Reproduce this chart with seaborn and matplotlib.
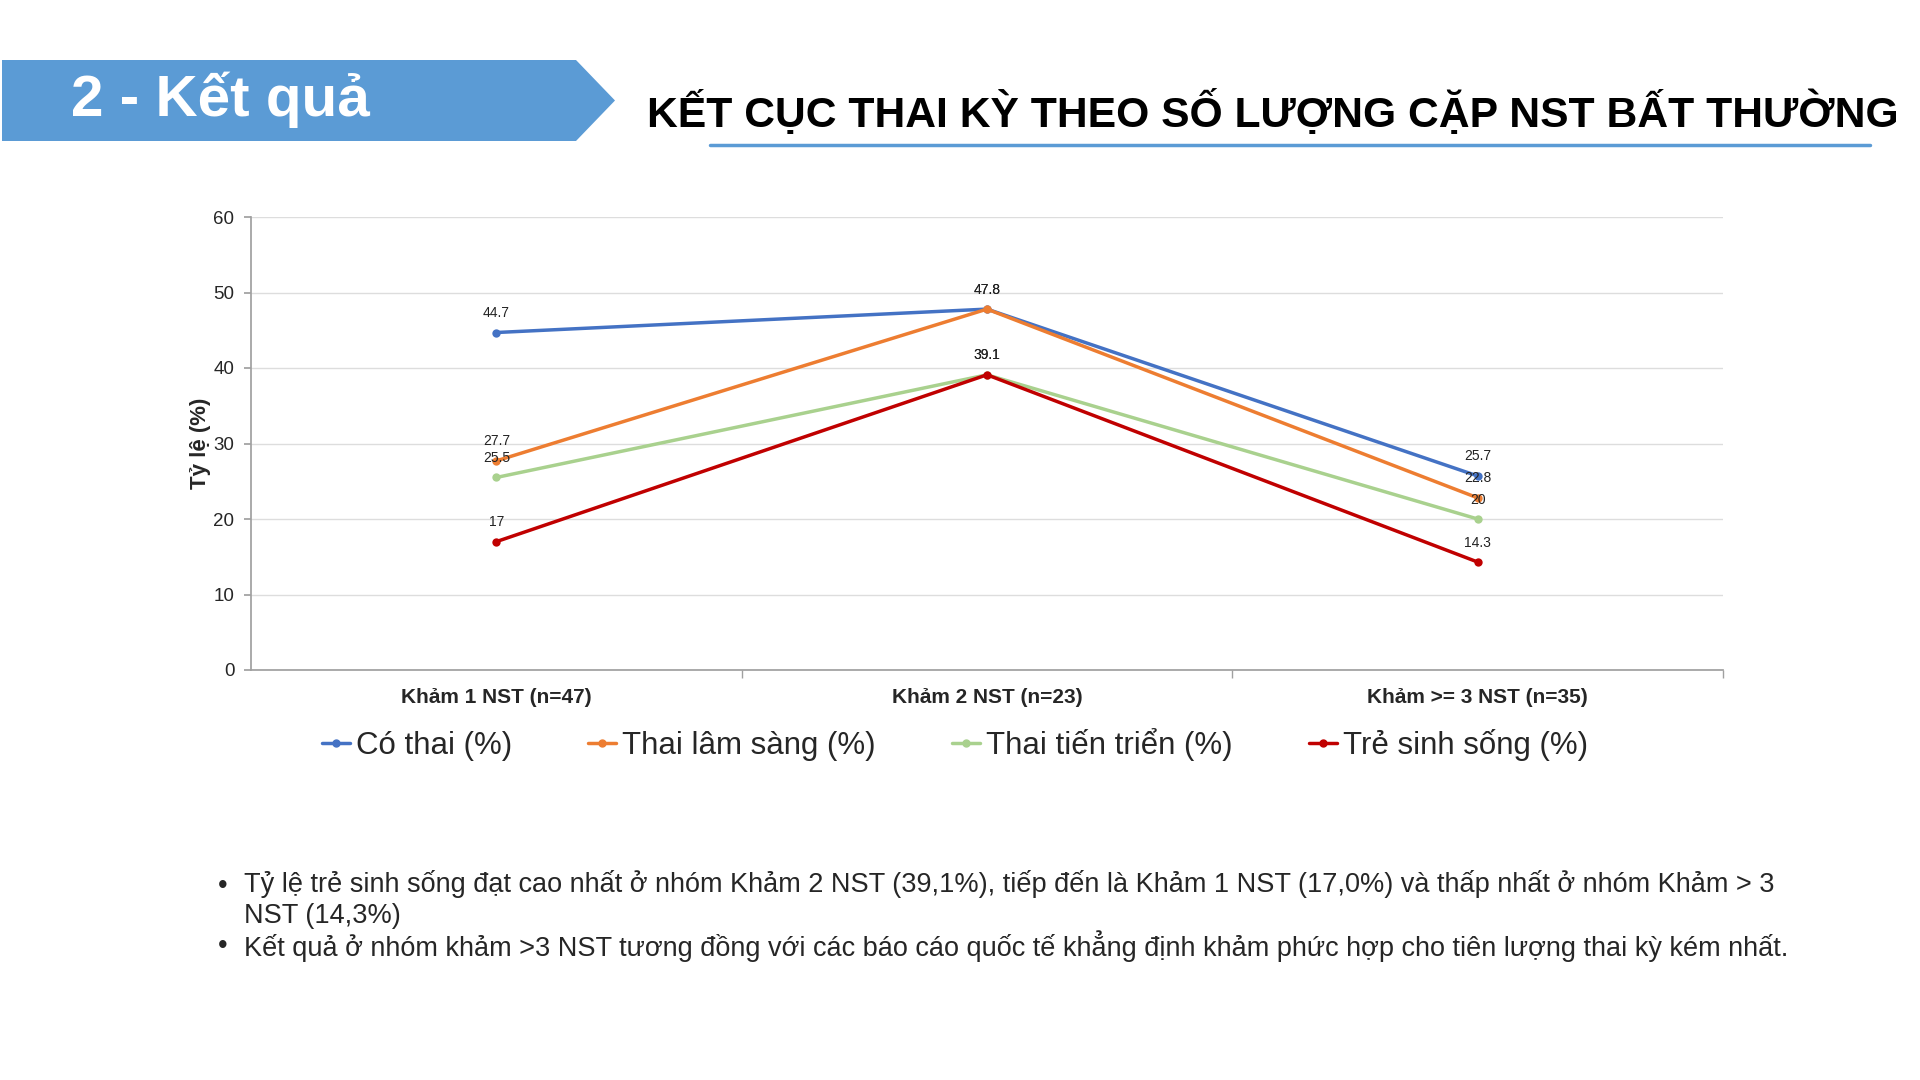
import numpy as np
import pandas as pd
import seaborn as sns
import matplotlib.pyplot as plt
from matplotlib.patches import Polygon
from matplotlib.lines import Line2D

categories = ['Khảm 1 NST (n=47)', 'Khảm 2 NST (n=23)', 'Khảm >= 3 NST (n=35)']
series_names = ['Có thai (%)', 'Thai lâm sàng (%)', 'Thai tiến triển (%)', 'Trẻ sinh sống (%)']
co_thai = [44.7, 47.8, 25.7]
thai_lam_sang = [27.7, 47.8, 22.8]
thai_tien_trien = [25.5, 39.1, 20]
tre_sinh_song = [17, 39.1, 14.3]
colors = ['#4472C4', '#ED7D31', '#A9D18E', '#C00000']

bullets = [
    'Tỷ lệ trẻ sinh sống đạt cao nhất ở nhóm Khảm 2 NST (39,1%), tiếp đến là Khảm 1 NST (17,0%) và thấp nhất ở nhóm Khảm > 3\nNST (14,3%)',
    'Kết quả ở nhóm khảm >3 NST tương đồng với các báo cáo quốc tế khẳng định khảm phức hợp cho tiên lượng thai kỳ kém nhất.',
]

sns.set_theme(style='white')
plt.rcParams['font.family'] = ['Liberation Sans', 'DejaVu Sans']

rows = []
for name, vals in zip(series_names, [co_thai, thai_lam_sang, thai_tien_trien, tre_sinh_song]):
    for i, v in enumerate(vals):
        rows.append({'pos': i, 'cat': categories[i], 'series': name, 'value': v})
df = pd.DataFrame(rows)

W, H = 1920, 1080
fig = plt.figure(figsize=(19.2, 10.8), dpi=100)
fig.patch.set_facecolor('white')

# header banner
banner = Polygon([[2/W, 1-60/H], [576/W, 1-60/H], [615/W, 1-100.5/H],
                  [576/W, 1-141/H], [2/W, 1-141/H]],
                 closed=True, transform=fig.transFigure, facecolor='#5B9BD5', edgecolor='none')
fig.patches.append(banner)
fig.text(71/W, 1-100/H, '2 - Kết quả', color='white', fontsize=42, fontweight='bold',
         va='center', ha='left')
fig.text(647/W, 1-113/H, 'KẾT CỤC THAI KỲ THEO SỐ LƯỢNG CẶP NST BẤT THƯỜNG', color='black',
         fontsize=30.7, fontweight='bold', va='center', ha='left')
fig.add_artist(Line2D([710/W, 1870/W], [1-144.5/H, 1-144.5/H], transform=fig.transFigure,
                      color='#5B9BD5', lw=2.5))

ax = fig.add_axes([251/W, 1-670/H, (1723-251)/W, (670-217)/H])
sns.lineplot(data=df, x='pos', y='value', hue='series', palette=colors, marker='o',
             markersize=6, markeredgewidth=0, linewidth=2.5, sort=False, ax=ax, legend=False)

for name, vals in zip(series_names, [co_thai, thai_lam_sang, thai_tien_trien, tre_sinh_song]):
    for i, v in enumerate(vals):
        ax.annotate(f'{v:g}', (i, v), xytext=(0, 9), textcoords='offset points',
                    ha='center', va='bottom', fontsize=10, color='#222222')

ax.set_xlim(-0.5, 2.5)
ax.set_ylim(0, 60)
ax.set_yticks(range(0, 61, 10))
ax.set_xticks(range(3))
ax.set_xticklabels(categories, fontweight='bold', fontsize=15)
ax.set_xticks([0.5, 1.5, 2.5], minor=True)
ax.tick_params(axis='x', which='major', length=0, pad=13)
ax.tick_params(axis='x', which='minor', length=6, color='#A0A0A0', direction='out', bottom=True)
ax.tick_params(axis='y', length=5, color='#A0A0A0', labelsize=13.5, left=True, direction='out', pad=7)
ax.grid(axis='y', color='#DDDDDD', lw=1)
ax.set_axisbelow(True)
for s in ['top', 'right']:
    ax.spines[s].set_visible(False)
for s in ['left', 'bottom']:
    ax.spines[s].set_color('#A0A0A0')
ax.set_xlabel('')
ax.set_ylabel('Tỷ lệ (%)', fontsize=16, fontweight='bold', labelpad=2)

handles = [Line2D([], [], color=c, lw=2.5, marker='o', markersize=5) for c in colors]
fig.legend(handles, series_names, loc='center', bbox_to_anchor=(955/W, 1-744.5/H), ncol=4,
           frameon=False, fontsize=22.5, handlelength=0.9, handletextpad=0.2, columnspacing=2.43)

ys = [870, 930]
for y, txt in zip(ys, bullets):
    fig.text(218/W, 1-(y + 3)/H, '•', fontsize=19.5, va='top', ha='left')
    fig.text(244/W, 1-y/H, txt, fontsize=19.5, va='top', ha='left', linespacing=1.25)

fig.savefig('out.png', dpi=100)
